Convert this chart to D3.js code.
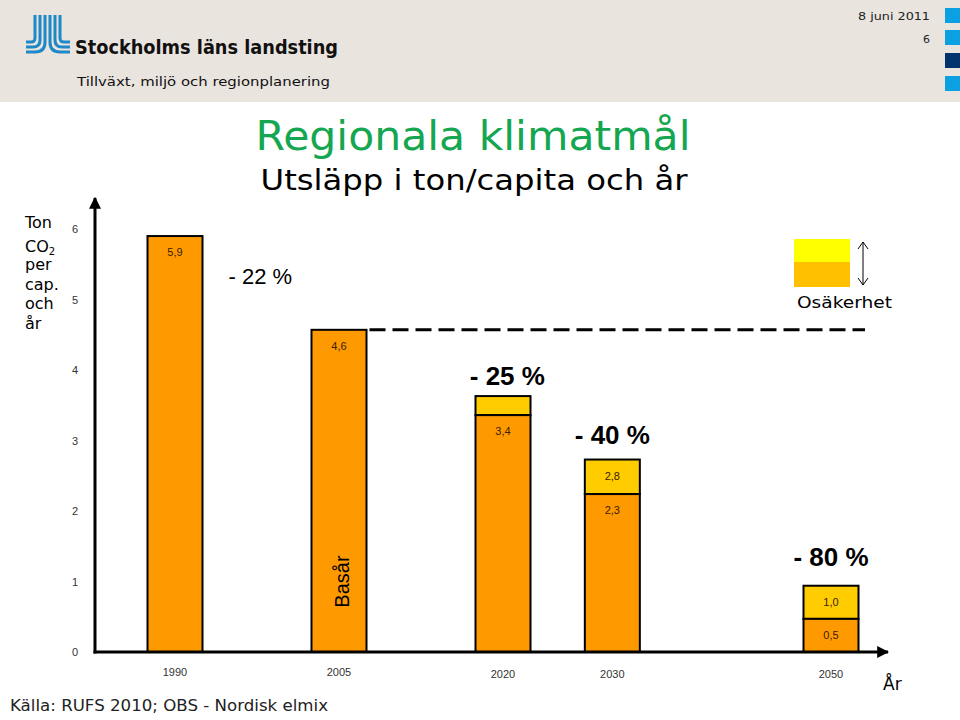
<!DOCTYPE html>
<html><head><meta charset="utf-8">
<script src="https://cdn.jsdelivr.net/npm/d3@7/dist/d3.min.js"></script>
<style>body{margin:0;background:#fff}svg{display:block}</style>
</head><body>
<script>
// ---- data ----
const years = [1990, 2005, 2020, 2030, 2050];
const baseValues = [5.9, 4.57, 3.36, 2.24, 0.47];
const baseLabels = ["5,9", "4,6", "3,4", "2,3", "0,5"];
const upperValues = [null, null, 3.63, 2.73, 0.94];
const upperLabels = ["", "", "", "2,8", "1,0"];
const yTicks = [0, 1, 2, 3, 4, 5, 6];
const xTickLabels = ["1990", "2005", "2020", "2030", "2050"];
const annTexts = ["- 22 %", "- 25 %", "- 40 %", "- 80 %"];
const annYears = [1997.8, 2020.4, 2030, 2050];
const annValues = [5.33, 3.91, 3.08, 1.35];
const annBold = [false, true, true, true];
const baseYearValue = 4.57;

const W = 960, H = 720;
const svg = d3.select("body").append("svg").attr("width", W).attr("height", H);
const VER = "DejaVu Sans, Verdana, sans-serif";
const ARI = "Liberation Sans, Arial, sans-serif";

// header
svg.append("rect").attr("x", 0).attr("y", 0).attr("width", W).attr("height", 102).attr("fill", "#EAE4DF");
const logo = svg.append("g").attr("fill", "none").attr("stroke", "#1E88C8").attr("stroke-width", 3);
for (let i = 0; i < 3; i++) {
  const x = 35 + 5 * i, yh = 42 + 5 * i, r = 4 + 3 * i;
  logo.append("path").attr("d", `M${x},15 V${yh - r} Q${x},${yh} ${x - r},${yh} H26`);
  const x2 = 60 - 5 * i;
  logo.append("path").attr("d", `M${x2},15 V${yh - r} Q${x2},${yh} ${x2 + r},${yh} H70`);
}
svg.append("text").attr("x", 75).attr("y", 54).attr("font-family", VER).attr("font-weight", "bold")
  .attr("font-size", 19).attr("textLength", 263).attr("lengthAdjust", "spacingAndGlyphs")
  .attr("fill", "#111").text("Stockholms läns landsting");
svg.append("text").attr("x", 77).attr("y", 86).attr("font-family", VER).attr("font-size", 13)
  .attr("textLength", 253).attr("lengthAdjust", "spacingAndGlyphs")
  .attr("fill", "#111").text("Tillväxt, miljö och regionplanering");
svg.append("text").attr("x", 858).attr("y", 20).attr("font-family", VER)
  .attr("font-size", 11).attr("textLength", 72).attr("lengthAdjust", "spacingAndGlyphs").attr("fill", "#222").text("8 juni 2011");
svg.append("text").attr("x", 930).attr("y", 43).attr("text-anchor", "end").attr("font-family", VER)
  .attr("font-size", 11).attr("fill", "#222").text("6");
const sq = [[8, "#0AA0E2"], [30, "#0AA0E2"], [53, "#00336E"], [76, "#0AA0E2"]];
sq.forEach(([y, c]) => svg.append("rect").attr("x", 945).attr("y", y).attr("width", 15).attr("height", 15).attr("fill", c));

// titles
svg.append("text").attr("x", 473).attr("y", 150).attr("text-anchor", "middle").attr("font-family", VER)
  .attr("font-size", 40).attr("textLength", 435).attr("lengthAdjust", "spacingAndGlyphs")
  .attr("fill", "#14A650").text("Regionala klimatmål");
svg.append("text").attr("x", 474).attr("y", 190).attr("text-anchor", "middle").attr("font-family", VER)
  .attr("font-size", 28).attr("textLength", 427).attr("lengthAdjust", "spacingAndGlyphs")
  .attr("fill", "#000").text("Utsläpp i ton/capita och år");

// scales
const x = d3.scaleLinear().domain([1990, 2050]).range([175, 831]);
const y = d3.scaleLinear().domain([0, 6]).range([652, 229]);
const bw = 55;

// y-axis title
const lines = [["Ton", 228], ["CO", 252], ["per", 270], ["cap.", 290], ["och", 309], ["år", 329]];
lines.forEach(([t, yy]) => {
  const tt = svg.append("text").attr("x", 25).attr("y", yy).attr("font-family", VER).attr("font-size", 16)
    .attr("fill", "#000").text(t);
  if (t === "CO") tt.append("tspan").attr("font-size", 10).attr("dy", 3).text("2");
});

// bars
const bars = svg.append("g");
years.forEach((yr, i) => {
  const cx = x(yr);
  if (upperValues[i] != null) {
    bars.append("rect").attr("x", cx - bw / 2).attr("y", y(upperValues[i])).attr("width", bw)
      .attr("height", y(baseValues[i]) - y(upperValues[i])).attr("fill", "#FFCC00").attr("stroke", "#000").attr("stroke-width", 2);
  }
  bars.append("rect").attr("x", cx - bw / 2).attr("y", y(baseValues[i])).attr("width", bw)
    .attr("height", y(0) - y(baseValues[i])).attr("fill", "#FF9900").attr("stroke", "#000").attr("stroke-width", 2);
  bars.append("text").attr("x", cx).attr("y", y(baseValues[i]) + 20).attr("text-anchor", "middle")
    .attr("font-family", ARI).attr("font-size", 11).attr("fill", "#3a2000").text(baseLabels[i]);
  if (upperLabels[i]) {
    bars.append("text").attr("x", cx).attr("y", y(upperValues[i]) + 20).attr("text-anchor", "middle")
      .attr("font-family", ARI).attr("font-size", 11).attr("fill", "#3a2000").text(upperLabels[i]);
  }
});

// Basår
svg.append("text").attr("transform", `translate(${x(2005) + 10},${y(1.0)}) rotate(-90)`).attr("text-anchor", "middle")
  .attr("font-family", ARI).attr("font-size", 20).attr("fill", "#000").text("Basår");

// dashed base line
svg.append("line").attr("x1", x(2005) + bw / 2 + 3).attr("x2", 865).attr("y1", y(baseYearValue)).attr("y2", y(baseYearValue))
  .attr("stroke", "#000").attr("stroke-width", 3).attr("stroke-dasharray", "16,7");

// axes
svg.append("defs").append("marker").attr("id", "arr").attr("viewBox", "0 0 10 10").attr("refX", 9).attr("refY", 5)
  .attr("markerWidth", 4).attr("markerHeight", 4).attr("orient", "auto")
  .append("path").attr("d", "M0,0 L10,5 L0,10 z").attr("fill", "#000");
svg.append("line").attr("x1", 95).attr("y1", y(0) + 1.5).attr("x2", 95).attr("y2", 198).attr("stroke", "#000").attr("stroke-width", 3).attr("marker-end", "url(#arr)");
svg.append("line").attr("x1", 93.5).attr("y1", y(0)).attr("x2", 888).attr("y2", y(0)).attr("stroke", "#000").attr("stroke-width", 3).attr("marker-end", "url(#arr)");

svg.append("g").selectAll("text").data(yTicks).join("text")
  .attr("x", 75).attr("y", d => y(d) + 4).attr("text-anchor", "middle")
  .attr("font-family", ARI).attr("font-size", 11).attr("fill", "#333").text(d => d);
svg.append("g").selectAll("text").data(years).join("text")
  .attr("x", d => x(d)).attr("y", (d, i) => i < 2 ? 676 : 678).attr("text-anchor", "middle")
  .attr("font-family", ARI).attr("font-size", 11).attr("fill", "#333").text((d, i) => xTickLabels[i]);
svg.append("text").attr("x", 883).attr("y", 690).attr("font-family", VER).attr("font-size", 17).attr("fill", "#000").text("År");

// annotations
annTexts.forEach((t, i) => {
  svg.append("text").attr("x", x(annYears[i])).attr("y", y(annValues[i])).attr("dy", "0.35em").attr("text-anchor", "middle")
    .attr("font-family", ARI).attr("font-size", annBold[i] ? 26 : 22).attr("font-weight", annBold[i] ? "bold" : "normal")
    .attr("fill", "#000").text(t);
});

// legend
svg.append("rect").attr("x", 794).attr("y", 239).attr("width", 56).attr("height", 24).attr("fill", "#FFFF00");
svg.append("rect").attr("x", 794).attr("y", 262).attr("width", 56).attr("height", 25).attr("fill", "#FFC000");
svg.append("line").attr("x1", 863).attr("x2", 863).attr("y1", 242).attr("y2", 285).attr("stroke", "#000").attr("stroke-width", 1);
svg.append("path").attr("d", "M858,249 L863,242 L868,249 M858,278 L863,285 L868,278").attr("fill", "none").attr("stroke", "#000").attr("stroke-width", 1);
svg.append("text").attr("x", 797).attr("y", 308).attr("font-family", VER).attr("font-size", 16)
  .attr("textLength", 95).attr("lengthAdjust", "spacingAndGlyphs").attr("fill", "#000").text("Osäkerhet");

// source
svg.append("text").attr("x", 10).attr("y", 711).attr("font-family", VER).attr("font-size", 15)
  .attr("textLength", 318).attr("lengthAdjust", "spacingAndGlyphs").attr("fill", "#222").text("Källa: RUFS 2010; OBS - Nordisk elmix");
</script>
</body></html>
